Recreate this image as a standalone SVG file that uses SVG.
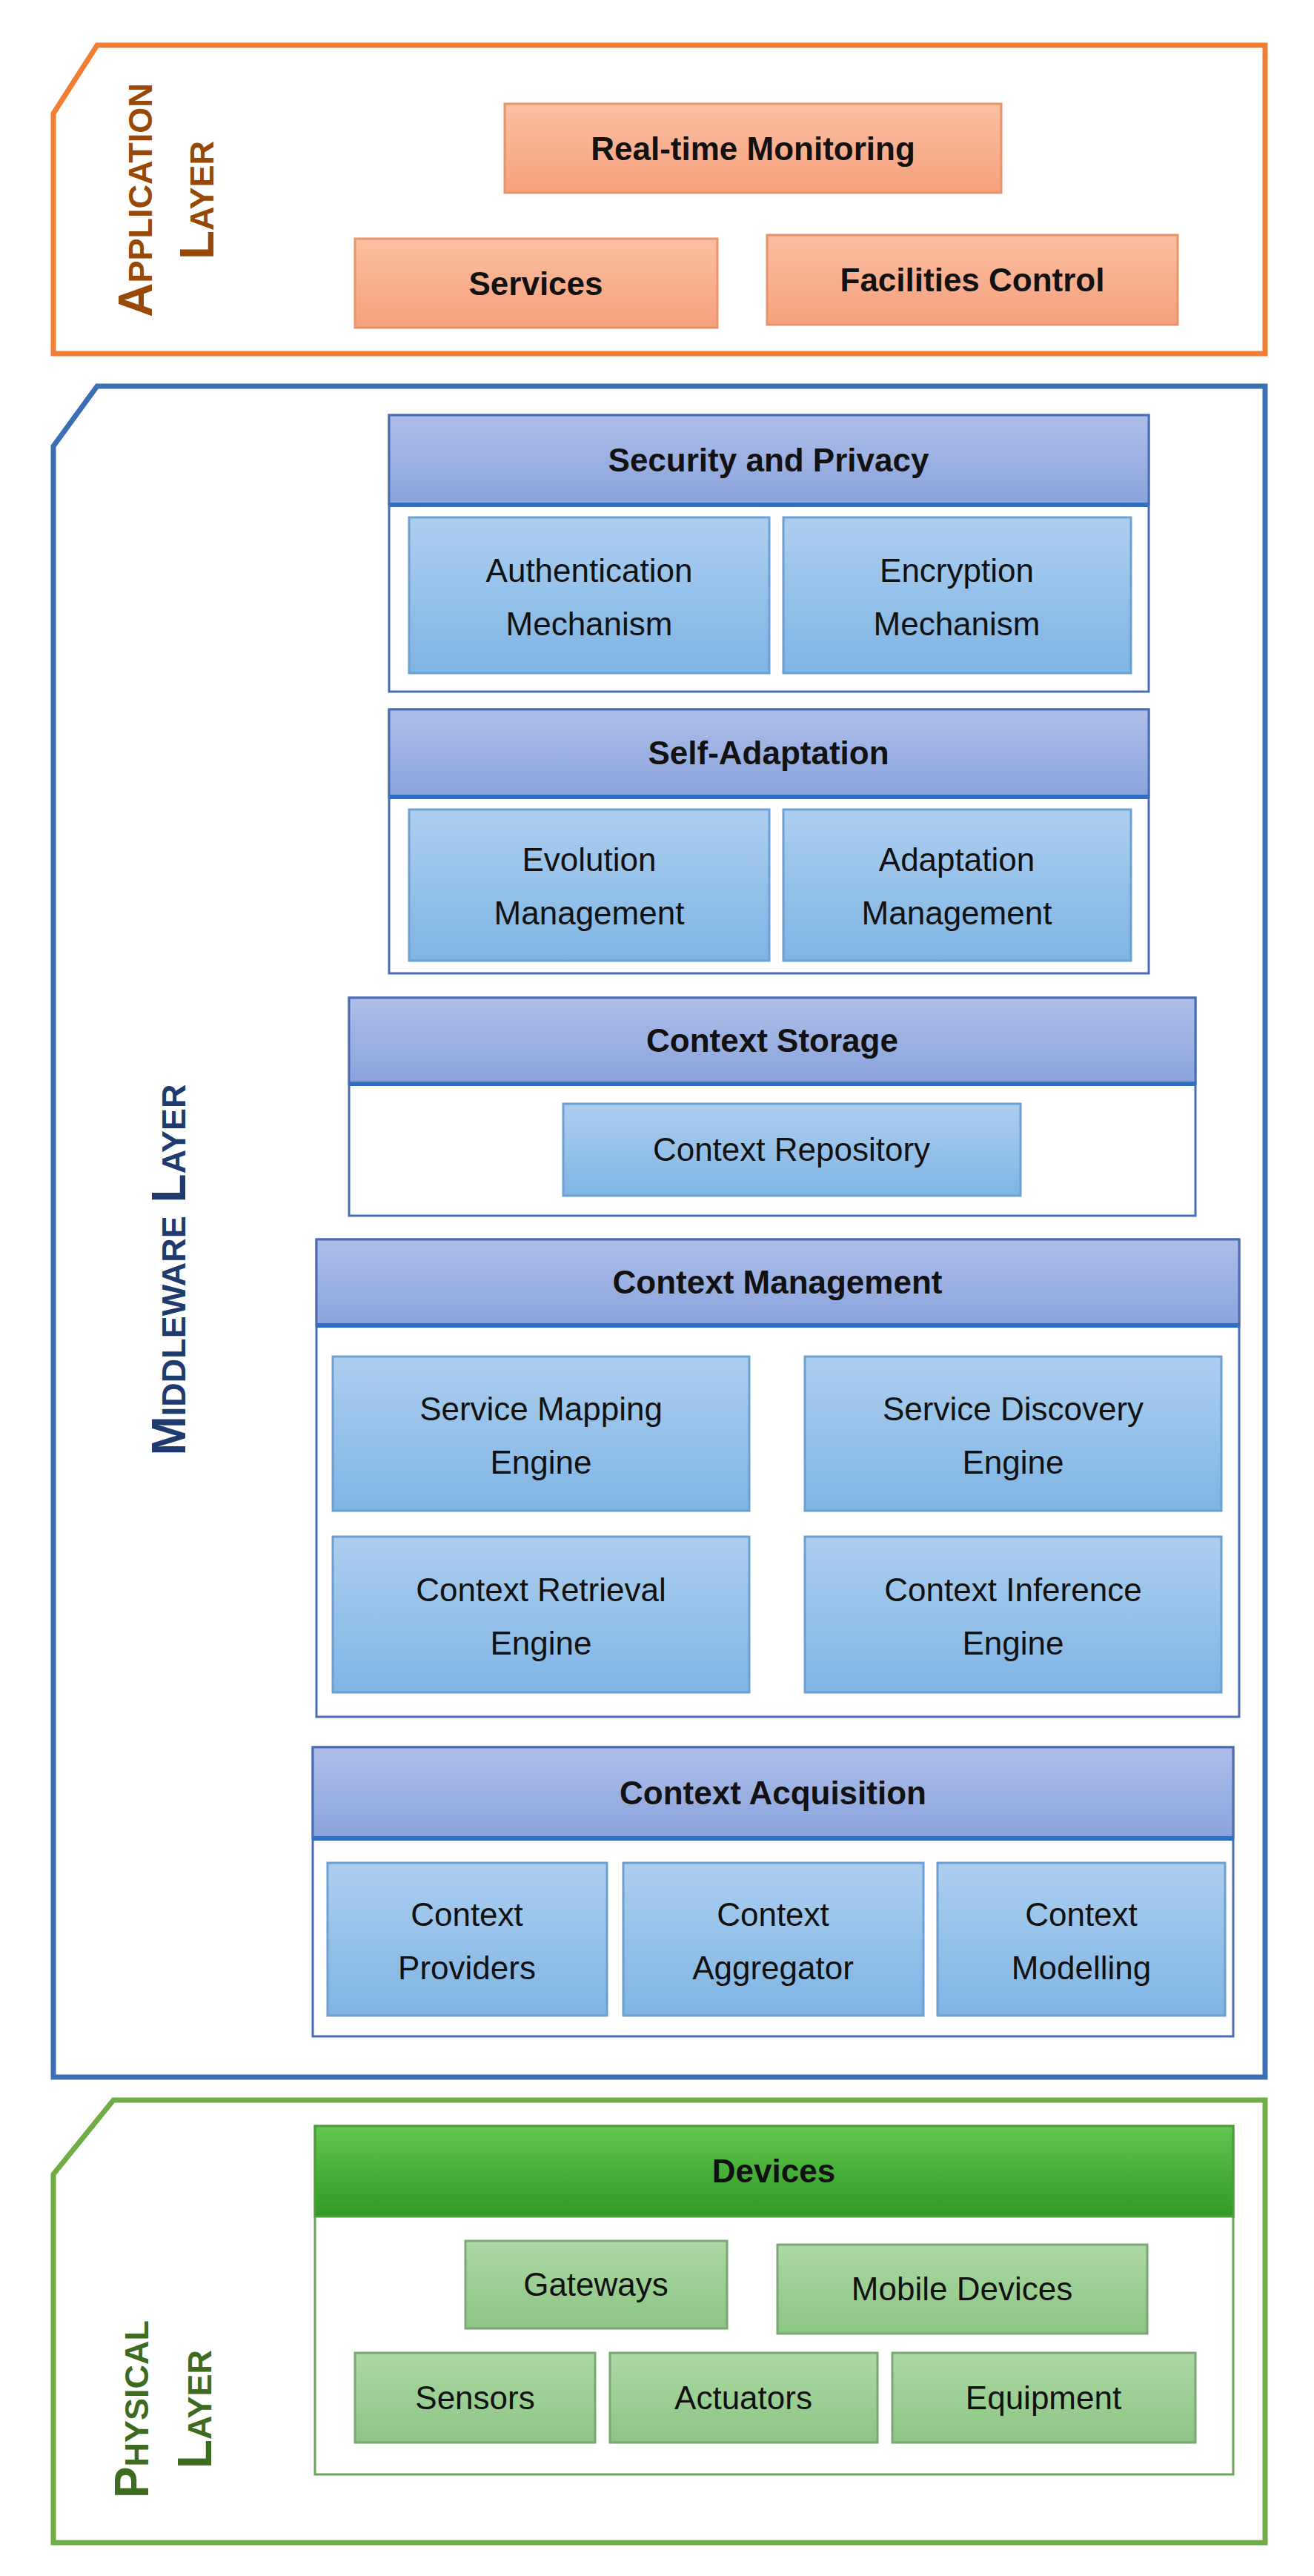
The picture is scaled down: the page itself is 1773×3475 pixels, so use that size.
<svg xmlns="http://www.w3.org/2000/svg" width="1773" height="3475" viewBox="0 0 1773 3475">
<defs>
<linearGradient id="gA" x1="0" y1="0" x2="0" y2="1"><stop offset="0" stop-color="#fbbfa2"/><stop offset="1" stop-color="#f5a07c"/></linearGradient>
<linearGradient id="gH" x1="0" y1="0" x2="0" y2="1"><stop offset="0" stop-color="#adbfe8"/><stop offset="1" stop-color="#8aa3dc"/></linearGradient>
<linearGradient id="gS" x1="0" y1="0" x2="0" y2="1"><stop offset="0" stop-color="#acceef"/><stop offset="1" stop-color="#7fb5e3"/></linearGradient>
<linearGradient id="gG" x1="0" y1="0" x2="0" y2="1"><stop offset="0" stop-color="#62c650"/><stop offset="1" stop-color="#2f9a24"/></linearGradient>
<linearGradient id="gP" x1="0" y1="0" x2="0" y2="1"><stop offset="0" stop-color="#acd8a4"/><stop offset="1" stop-color="#8bc683"/></linearGradient>
</defs>
<style>
text{font-family:"Liberation Sans",Arial,sans-serif;text-anchor:middle;fill:#111}
.t{font-size:44px;font-weight:bold}
.s{font-size:44px}
.lab{font-size:64px;font-weight:bold;font-variant:small-caps}
.ab{fill:url(#gA);stroke:#e8936a;stroke-width:3}
.hd{fill:url(#gH);stroke:#4a6cb5;stroke-width:3}
.sb{fill:url(#gS);stroke:#6d9fd2;stroke-width:3}
.ct{fill:#fff;stroke:#4a6cb5;stroke-width:3}
.gh{fill:url(#gG);stroke:#4f9a3c;stroke-width:3}
.gc{fill:#fff;stroke:#6aa55a;stroke-width:3}
.gb{fill:url(#gP);stroke:#7aa874;stroke-width:3}
</style>
<rect width="1773" height="3475" fill="#fff"/>
<g id="application-layer">
<path d="M131,61 H1707 V477 H72 V153 Z" fill="none" stroke="#f07f35" stroke-width="7"/>
<text class="lab" transform="translate(205,270) rotate(-90)" fill="#984807" style="fill:#984807">Application</text>
<text class="lab" transform="translate(288,270) rotate(-90)" style="fill:#984807">Layer</text>
</g>
<g id="rtm"><rect class="ab" x="681" y="140" width="670" height="120"/><text class="t" x="1016" y="216">Real-time Monitoring</text></g>
<g id="services"><rect class="ab" x="479" y="322" width="489" height="120"/><text class="t" x="723" y="398">Services</text></g>
<g id="facilities"><rect class="ab" x="1035" y="317" width="554" height="121"/><text class="t" x="1312" y="393">Facilities Control</text></g>

<g id="middleware-layer">
<path d="M131,521 H1707 V2802 H72 V602 Z" fill="none" stroke="#3c6eb4" stroke-width="7"/>
<text class="lab" transform="translate(250,1713) rotate(-90)" style="fill:#1f3a6e">Middleware Layer</text>
</g>
<g id="security">
<rect class="ct" x="525" y="560" width="1025" height="373"/>
<rect class="hd" x="525" y="560" width="1025" height="121"/><line x1="525" y1="681" x2="1550" y2="681" stroke="#2e6fc4" stroke-width="6"/>
<text class="t" x="1037" y="636">Security and Privacy</text>
<rect class="sb" x="552" y="698" width="486" height="210"/><text class="s" x="795" y="785">Authentication</text><text class="s" x="795" y="857">Mechanism</text>
<rect class="sb" x="1057" y="698" width="469" height="210"/><text class="s" x="1291" y="785">Encryption</text><text class="s" x="1291" y="857">Mechanism</text>
</g>
<g id="self-adaptation">
<rect class="ct" x="525" y="957" width="1025" height="356"/>
<rect class="hd" x="525" y="957" width="1025" height="118"/><line x1="525" y1="1075" x2="1550" y2="1075" stroke="#2e6fc4" stroke-width="6"/>
<text class="t" x="1037" y="1031">Self-Adaptation</text>
<rect class="sb" x="552" y="1092" width="486" height="204"/><text class="s" x="795" y="1175">Evolution</text><text class="s" x="795" y="1247">Management</text>
<rect class="sb" x="1057" y="1092" width="469" height="204"/><text class="s" x="1291" y="1175">Adaptation</text><text class="s" x="1291" y="1247">Management</text>
</g>
<g id="storage">
<rect class="ct" x="471" y="1346" width="1142" height="294"/>
<rect class="hd" x="471" y="1346" width="1142" height="116"/><line x1="471" y1="1462" x2="1613" y2="1462" stroke="#2e6fc4" stroke-width="6"/>
<text class="t" x="1042" y="1419">Context Storage</text>
<rect class="sb" x="760" y="1489" width="617" height="124"/><text class="s" x="1068" y="1566">Context Repository</text>
</g>
<g id="management">
<rect class="ct" x="427" y="1672" width="1245" height="644"/>
<rect class="hd" x="427" y="1672" width="1245" height="116"/><line x1="427" y1="1788" x2="1672" y2="1788" stroke="#2e6fc4" stroke-width="6"/>
<text class="t" x="1049" y="1745">Context Management</text>
<rect class="sb" x="449" y="1830" width="562" height="208"/><text class="s" x="730" y="1916">Service Mapping</text><text class="s" x="730" y="1988">Engine</text>
<rect class="sb" x="1086" y="1830" width="562" height="208"/><text class="s" x="1367" y="1916">Service Discovery</text><text class="s" x="1367" y="1988">Engine</text>
<rect class="sb" x="449" y="2073" width="562" height="210"/><text class="s" x="730" y="2160">Context Retrieval</text><text class="s" x="730" y="2232">Engine</text>
<rect class="sb" x="1086" y="2073" width="562" height="210"/><text class="s" x="1367" y="2160">Context Inference</text><text class="s" x="1367" y="2232">Engine</text>
</g>
<g id="acquisition">
<rect class="ct" x="422" y="2357" width="1242" height="390"/>
<rect class="hd" x="422" y="2357" width="1242" height="123"/><line x1="422" y1="2480" x2="1664" y2="2480" stroke="#2e6fc4" stroke-width="6"/>
<text class="t" x="1043" y="2434">Context Acquisition</text>
<rect class="sb" x="442" y="2513" width="377" height="206"/><text class="s" x="630" y="2598">Context</text><text class="s" x="630" y="2670">Providers</text>
<rect class="sb" x="841" y="2513" width="405" height="206"/><text class="s" x="1043" y="2598">Context</text><text class="s" x="1043" y="2670">Aggregator</text>
<rect class="sb" x="1265" y="2513" width="388" height="206"/><text class="s" x="1459" y="2598">Context</text><text class="s" x="1459" y="2670">Modelling</text>
</g>

<g id="physical-layer">
<path d="M153,2833 H1707 V3430 H72 V2933 Z" fill="none" stroke="#70ad47" stroke-width="7"/>
<text class="lab" transform="translate(200,3250) rotate(-90)" style="fill:#3f6b21">Physical</text>
<text class="lab" transform="translate(285,3250) rotate(-90)" style="fill:#3f6b21">Layer</text>
</g>
<g id="devices">
<rect class="gc" x="425" y="2868" width="1239" height="470"/>
<rect class="gh" x="425" y="2868" width="1239" height="122"/>
<text class="t" x="1044" y="2944">Devices</text>
<rect class="gb" x="628" y="3023" width="353" height="118"/><text class="s" x="804" y="3097">Gateways</text>
<rect class="gb" x="1049" y="3028" width="499" height="120"/><text class="s" x="1298" y="3103">Mobile Devices</text>
<rect class="gb" x="479" y="3174" width="324" height="121"/><text class="s" x="641" y="3250">Sensors</text>
<rect class="gb" x="823" y="3174" width="361" height="121"/><text class="s" x="1003" y="3250">Actuators</text>
<rect class="gb" x="1204" y="3174" width="409" height="121"/><text class="s" x="1408" y="3250">Equipment</text>
</g>
<g id="connectors"/>
</svg>
